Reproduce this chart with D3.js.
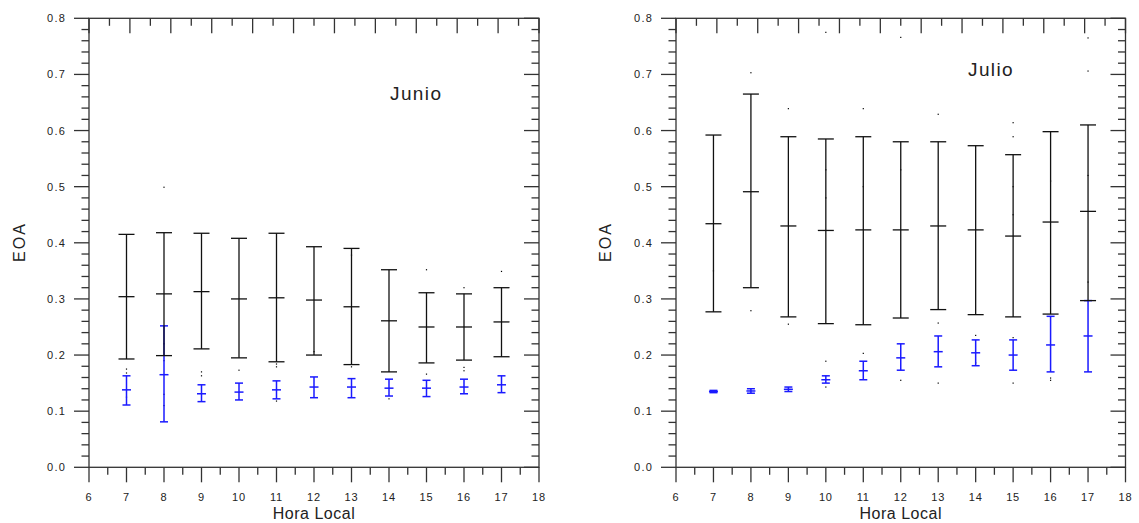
<!DOCTYPE html>
<html>
<head>
<meta charset="utf-8">
<script src="https://cdn.jsdelivr.net/npm/d3@7"></script>
<style>
  html, body { margin: 0; padding: 0; background: #fff; }
  svg { display: block; }
  text { font-family: "Liberation Sans", Arial, sans-serif; fill: #222; }
</style>
</head>
<body>
<svg id="chart" width="1139" height="523"></svg>
<script>
// ---------------- DATA ----------------
const hours = [7, 8, 9, 10, 11, 12, 13, 14, 15, 16, 17];
const xTickLabels = [6, 7, 8, 9, 10, 11, 12, 13, 14, 15, 16, 17, 18];
const yTickLabels = ["0.0", "0.1", "0.2", "0.3", "0.4", "0.5", "0.6", "0.7", "0.8"];

// Junio
const junioBlackMean = [0.304, 0.309, 0.313, 0.300, 0.302, 0.298, 0.286, 0.261, 0.250, 0.250, 0.259];
const junioBlackHi   = [0.415, 0.418, 0.417, 0.408, 0.417, 0.393, 0.390, 0.352, 0.311, 0.309, 0.320];
const junioBlackLo   = [0.193, 0.199, 0.211, 0.195, 0.188, 0.200, 0.183, 0.170, 0.186, 0.191, 0.197];
const junioBlueMean  = [0.138, 0.165, 0.131, 0.134, 0.138, 0.143, 0.143, 0.141, 0.141, 0.143, 0.147];
const junioBlueHi    = [0.163, 0.252, 0.147, 0.150, 0.154, 0.161, 0.158, 0.157, 0.155, 0.157, 0.163];
const junioBlueLo    = [0.111, 0.081, 0.117, 0.120, 0.122, 0.124, 0.124, 0.127, 0.126, 0.131, 0.133];
const junioDots = [
  [7, 0.175], [7, 0.168], [7, 0.125], [8, 0.499], [8, 0.22], [8, 0.19], [8, 0.13], [8, 0.11],
  [9, 0.170], [9, 0.163], [10, 0.173], [11, 0.184], [11, 0.179], [11, 0.118], [12, 0.206],
  [13, 0.378], [13, 0.179], [14, 0.122], [15, 0.352], [15, 0.166], [16, 0.320], [16, 0.178],
  [16, 0.172], [17, 0.349]
];

// Julio
const julioBlackMean = [0.434, 0.491, 0.430, 0.422, 0.423, 0.423, 0.430, 0.423, 0.412, 0.437, 0.456];
const julioBlackHi   = [0.592, 0.665, 0.589, 0.585, 0.589, 0.580, 0.580, 0.573, 0.557, 0.598, 0.610];
const julioBlackLo   = [0.277, 0.320, 0.268, 0.256, 0.254, 0.266, 0.281, 0.272, 0.268, 0.273, 0.297];
const julioBlueMean  = [0.135, 0.136, 0.139, 0.156, 0.172, 0.195, 0.206, 0.204, 0.200, 0.218, 0.234];
const julioBlueHi    = [0.137, 0.140, 0.143, 0.163, 0.189, 0.220, 0.234, 0.227, 0.227, 0.269, 0.297];
const julioBlueLo    = [0.133, 0.132, 0.135, 0.150, 0.156, 0.173, 0.179, 0.181, 0.173, 0.170, 0.170];
const julioDots = [
  [7, 0.35], [8, 0.703], [8, 0.279], [9, 0.639], [9, 0.255], [10, 0.775], [10, 0.53], [10, 0.48],
  [10, 0.189], [10, 0.143], [11, 0.639], [11, 0.203], [11, 0.50], [12, 0.766], [12, 0.155], [12, 0.53],
  [13, 0.629], [13, 0.257], [13, 0.150], [14, 0.235], [14, 0.186], [15, 0.614], [15, 0.589],
  [15, 0.50], [15, 0.45], [15, 0.231], [15, 0.150], [16, 0.159], [16, 0.155], [16, 0.51],
  [17, 0.765], [17, 0.706], [17, 0.52], [17, 0.33]
];

// ---------------- LAYOUT ----------------
const svg = d3.select("#chart");
const yTop = 18.3, yBottom = 467.3;

const panels = [
  { title: "Junio", left: 89, right: 539, titleX: 390, titleY: 100, eoaX: 25,
    black: [junioBlackMean, junioBlackHi, junioBlackLo],
    blue: [junioBlueMean, junioBlueHi, junioBlueLo], dots: junioDots },
  { title: "Julio", left: 676, right: 1125.5, titleX: 968, titleY: 76, eoaX: 611,
    black: [julioBlackMean, julioBlackHi, julioBlackLo],
    blue: [julioBlueMean, julioBlueHi, julioBlueLo], dots: julioDots }
];

const axisColor = "#333";
const black = "#111";
const blue = "#1a1aff";

panels.forEach(p => {
  const x = d3.scaleLinear().domain([6, 18]).range([p.left, p.right]);
  const y = d3.scaleLinear().domain([0, 0.8]).range([yBottom, yTop]);
  // the top frame carries its own 11-division tick set
  const xTop = d3.scaleLinear().domain([0, 11]).range([p.left, p.right]);
  const g = svg.append("g");

  const majorY = d3.range(0, 0.8001, 0.1);
  const minorY = d3.range(0, 0.8001, 0.02).filter(v => Math.abs(v * 10 - Math.round(v * 10)) > 1e-6);
  const majorX = d3.range(6, 18.001, 1);
  const minorX = d3.range(6.5, 18, 1);
  const majorTop = d3.range(0, 11.001, 1);
  const minorTop = d3.range(0.5, 11, 1);

  // frame
  g.append("rect")
    .attr("x", p.left).attr("y", yTop)
    .attr("width", p.right - p.left).attr("height", yBottom - yTop)
    .attr("fill", "none").attr("stroke", axisColor).attr("stroke-width", 1.3);

  const tick = (x1, y1, x2, y2, w) => g.append("line")
    .attr("x1", x1).attr("y1", y1).attr("x2", x2).attr("y2", y2)
    .attr("stroke", axisColor).attr("stroke-width", w);

  // left ticks (outward) and right ticks (inward)
  majorY.forEach(v => { tick(p.left - 15, y(v), p.left, y(v), 1.3); tick(p.right - 15, y(v), p.right, y(v), 1.3); });
  minorY.forEach(v => { tick(p.left - 7.5, y(v), p.left, y(v), 1.3); tick(p.right - 7.5, y(v), p.right, y(v), 1.3); });
  // bottom ticks (outward)
  majorX.forEach(v => tick(x(v), yBottom, x(v), yBottom + 15, 1.3));
  minorX.forEach(v => tick(x(v), yBottom, x(v), yBottom + 7.5, 1.3));
  // top ticks (inward)
  majorTop.forEach(v => tick(xTop(v), yTop, xTop(v), yTop + 15, 1.3));
  minorTop.forEach(v => tick(xTop(v), yTop, xTop(v), yTop + 7.5, 1.3));

  // tick labels
  g.selectAll(".ylab").data(yTickLabels).enter().append("text")
    .attr("x", p.left - 23).attr("y", (d, i) => y(majorY[i]) + 4)
    .attr("text-anchor", "end").attr("font-size", 11).attr("letter-spacing", 1.2)
    .text(d => d);
  g.selectAll(".xlab").data(xTickLabels).enter().append("text")
    .attr("x", d => x(d)).attr("y", 500.5)
    .attr("text-anchor", "middle").attr("font-size", 11).attr("letter-spacing", 0.8)
    .text(d => d);

  // axis titles
  g.append("text").attr("x", (p.left + p.right) / 2).attr("y", 519)
    .attr("text-anchor", "middle").attr("font-size", 16).attr("letter-spacing", 0.5)
    .text("Hora Local");
  g.append("text").attr("x", p.eoaX).attr("y", 242)
    .attr("transform", `rotate(-90, ${p.eoaX}, 242)`)
    .attr("text-anchor", "middle").attr("font-size", 16).attr("letter-spacing", 2)
    .text("EOA");
  g.append("text").attr("x", p.titleX).attr("y", p.titleY)
    .attr("font-size", 19).attr("letter-spacing", 1.4)
    .text(p.title);

  // dots
  g.selectAll(".dot").data(p.dots).enter().append("rect")
    .attr("x", d => x(d[0]) - 0.6).attr("y", d => y(d[1]) - 0.6)
    .attr("width", 1.2).attr("height", 1.2).attr("fill", "#000");

  // error bars
  const drawBars = (series, color, half, meanHalf, width) => {
    const [mean, hi, lo] = series;
    const bg = g.append("g").attr("stroke", color).attr("stroke-width", width);
    hours.forEach((h, i) => {
      const cx = x(h);
      bg.append("line").attr("x1", cx).attr("x2", cx).attr("y1", y(hi[i])).attr("y2", y(lo[i]));
      bg.append("line").attr("x1", cx - half).attr("x2", cx + half).attr("y1", y(hi[i])).attr("y2", y(hi[i]));
      bg.append("line").attr("x1", cx - half).attr("x2", cx + half).attr("y1", y(lo[i])).attr("y2", y(lo[i]));
      bg.append("line").attr("x1", cx - meanHalf).attr("x2", cx + meanHalf).attr("y1", y(mean[i])).attr("y2", y(mean[i]));
    });
  };
  drawBars(p.blue, blue, 4, 4.5, 1.5);
  drawBars(p.black, black, 8, 8, 1.3);
});
</script>
</body>
</html>
